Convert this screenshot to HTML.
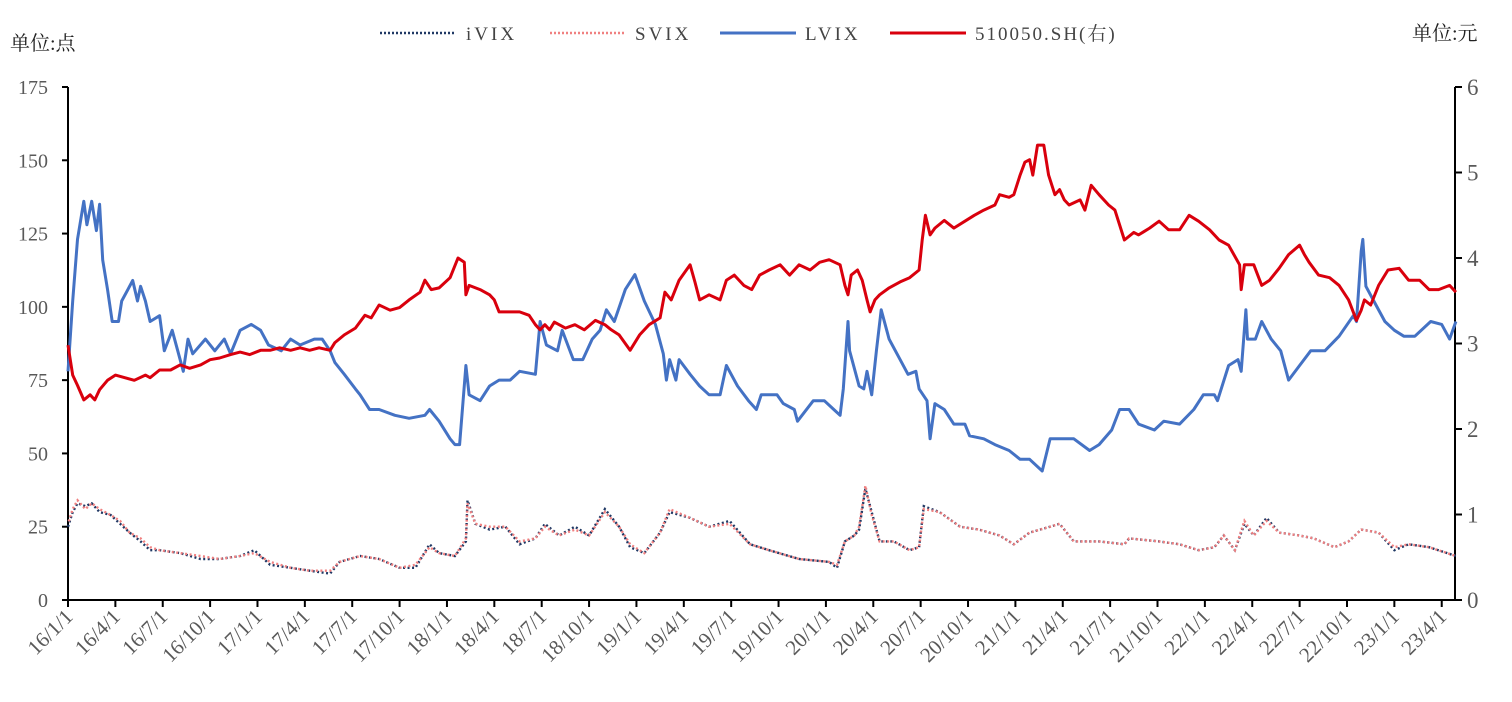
<!DOCTYPE html>
<html><head><meta charset="utf-8">
<style>
html,body{margin:0;padding:0;background:#fff;}
svg{display:block;}
text{font-family:"Liberation Serif","Noto Serif CJK SC",serif;fill:#595959;}
.cjk{font-family:"Liberation Serif","Noto Serif CJK SC","Noto Sans CJK SC",serif;fill:#222;}
</style></head>
<body>
<svg id="chart" width="1512" height="702" viewBox="0 0 1512 702" xmlns="http://www.w3.org/2000/svg">
  <text class="cjk" x="10" y="50" font-size="20">单位:点</text>
  <text class="cjk" x="1412" y="40" font-size="20">单位:元</text>
  <g id="legend">
    <g>
      <line x1="380" y1="33" x2="456" y2="33" stroke="#1f3864" stroke-width="2.5" stroke-dasharray="2,2"/>
      <text class="cjk" x="466" y="40" font-size="19" letter-spacing="3" style="fill:#444">iVIX</text>
    </g>
    <g>
      <line x1="550" y1="33" x2="626" y2="33" stroke="#f08080" stroke-width="2.5" stroke-dasharray="2,2"/>
      <text class="cjk" x="635" y="40" font-size="19" letter-spacing="3" style="fill:#444">SVIX</text>
    </g>
    <g>
      <line x1="720" y1="33" x2="796" y2="33" stroke="#4472c4" stroke-width="3"/>
      <text class="cjk" x="805" y="40" font-size="19" letter-spacing="3" style="fill:#444">LVIX</text>
    </g>
    <g>
      <line x1="890" y1="33" x2="966" y2="33" stroke="#d9000d" stroke-width="3"/>
      <text class="cjk" x="975" y="40" font-size="19" letter-spacing="2" style="fill:#444">510050.SH(右)</text>
    </g>
  </g>
  <g id="axes"></g>
  <g id="series"></g>
</svg>
<script>
// ---- data (dates in months since 2016-01-01) ----
const xTickLabels = ["16/1/1","16/4/1","16/7/1","16/10/1","17/1/1","17/4/1","17/7/1","17/10/1","18/1/1","18/4/1","18/7/1","18/10/1","19/1/1","19/4/1","19/7/1","19/10/1","20/1/1","20/4/1","20/7/1","20/10/1","21/1/1","21/4/1","21/7/1","21/10/1","22/1/1","22/4/1","22/7/1","22/10/1","23/1/1","23/4/1"];
const leftTicks = [0,25,50,75,100,125,150,175];
const rightTicks = [0,1,2,3,4,5,6];

const lvixDates = [0,0.3,0.6,1.0,1.2,1.5,1.8,2.0,2.2,2.5,2.8,3.2,3.4,3.8,4.1,4.4,4.6,4.9,5.2,5.8,6.1,6.6,7.3,7.6,7.9,8.7,9.3,9.9,10.3,10.9,11.6,12.2,12.7,13.5,14.1,14.7,15.6,16.1,16.6,16.9,17.5,18.2,18.5,19.1,19.7,20.7,21.6,22.6,22.9,23.5,24.2,24.5,24.8,25.2,25.4,26.1,26.7,27.3,28.0,28.6,29.6,29.9,30.3,31.0,31.3,32.0,32.6,33.2,33.7,34.1,34.6,35.3,35.9,36.5,37.2,37.7,37.9,38.1,38.5,38.7,39.4,40.0,40.6,41.3,41.7,42.4,43.1,43.6,43.9,44.9,45.3,46.0,46.2,47.2,47.9,48.5,48.9,49.1,49.4,49.5,50.1,50.4,50.6,50.9,51.2,51.5,52.0,52.7,53.2,53.7,53.9,54.4,54.6,54.9,55.5,56.1,56.8,57.1,58.0,58.7,59.6,60.3,60.9,61.7,62.2,62.8,63.7,64.7,65.3,66.1,66.6,67.2,67.8,68.8,69.4,70.4,71.3,71.9,72.6,72.8,73.5,74.1,74.3,74.6,74.7,75.2,75.6,76.2,76.8,77.3,78.0,78.7,79.6,80.5,81.4,81.6,81.9,82.0,82.2,82.7,83.4,84.0,84.6,85.3,86.3,87.0,87.5,87.9];
const lvixValues = [78,102,123,136,128,136,126,135,116,106,95,95,102,106,109,102,107,102,95,97,85,92,78,89,84,89,85,89,84,92,94,92,87,85,89,87,89,89,85,81,77,72,70,65,65,63,62,63,65,61,55,53,53,80,70,68,73,75,75,78,77,95,87,85,92,82,82,89,92,99,95,106,111,102,94,84,75,82,75,82,77,73,70,70,80,73,68,65,70,70,67,65,61,68,68,65,63,72,95,85,73,72,78,70,85,99,89,82,77,78,72,68,55,67,65,60,60,56,55,53,51,48,48,44,55,55,55,51,53,58,65,65,60,58,61,60,65,70,70,68,80,82,78,99,89,89,95,89,85,75,80,85,85,90,97,95,119,123,107,102,95,92,90,90,95,94,89,95];

const etfDates = [0,0.3,0.6,1.0,1.4,1.7,2.0,2.5,3.0,3.6,4.2,4.9,5.2,5.8,6.5,7.1,7.7,8.4,9.0,9.6,10.3,10.9,11.5,12.2,12.8,13.4,14.1,14.7,15.3,15.9,16.6,16.9,17.5,18.2,18.8,19.2,19.7,20.4,21.0,21.6,22.3,22.6,23.0,23.5,24.2,24.7,25.1,25.2,25.4,26.1,26.7,27.0,27.3,28.0,28.6,29.2,29.6,29.9,30.2,30.5,30.8,31.5,32.1,32.7,33.4,34.0,34.4,34.9,35.6,36.2,36.8,37.5,37.8,38.2,38.7,39.4,39.7,40.0,40.6,41.3,41.7,42.2,42.8,43.3,43.8,44.4,45.1,45.7,46.3,47.0,47.6,48.2,48.9,49.2,49.4,49.6,50.0,50.3,50.6,50.8,51.1,51.4,52.0,52.7,53.3,53.9,54.1,54.3,54.6,54.9,55.5,56.1,56.8,57.4,58.0,58.7,59.0,59.6,59.9,60.3,60.6,60.9,61.1,61.4,61.8,62.1,62.5,62.8,63.1,63.4,64.1,64.4,64.8,65.3,65.9,66.3,66.9,67.5,67.8,68.5,69.1,69.7,70.4,71.0,71.6,72.3,72.9,73.5,74.2,74.3,74.5,75.1,75.6,76.1,76.7,77.3,78.0,78.3,78.6,79.2,79.9,80.5,81.1,81.6,81.9,82.1,82.5,83.0,83.6,84.3,84.9,85.6,86.2,86.8,87.5,87.9];
const etfValues = [2.98,2.63,2.51,2.34,2.40,2.34,2.46,2.57,2.63,2.60,2.57,2.63,2.60,2.69,2.69,2.75,2.71,2.75,2.81,2.83,2.87,2.90,2.87,2.92,2.92,2.95,2.92,2.95,2.92,2.95,2.92,3.01,3.10,3.18,3.33,3.30,3.45,3.39,3.42,3.51,3.60,3.74,3.63,3.65,3.77,4.00,3.95,3.57,3.68,3.63,3.57,3.51,3.37,3.37,3.37,3.33,3.22,3.16,3.22,3.16,3.25,3.18,3.22,3.16,3.27,3.22,3.16,3.10,2.92,3.10,3.22,3.30,3.60,3.51,3.74,3.92,3.72,3.51,3.57,3.51,3.74,3.80,3.68,3.63,3.80,3.86,3.92,3.80,3.92,3.86,3.95,3.98,3.92,3.68,3.57,3.80,3.86,3.74,3.51,3.37,3.51,3.57,3.65,3.72,3.77,3.86,4.21,4.50,4.27,4.35,4.44,4.35,4.43,4.50,4.56,4.62,4.74,4.71,4.74,4.97,5.12,5.15,4.97,5.32,5.32,4.97,4.74,4.80,4.68,4.62,4.68,4.56,4.85,4.74,4.62,4.56,4.21,4.30,4.27,4.35,4.43,4.33,4.33,4.50,4.43,4.33,4.21,4.15,3.92,3.63,3.92,3.92,3.68,3.74,3.88,4.04,4.15,4.04,3.95,3.80,3.77,3.68,3.51,3.27,3.39,3.51,3.45,3.68,3.86,3.88,3.74,3.74,3.63,3.63,3.68,3.60];

const vixDates = [0,0.3,0.6,1.1,1.5,2.0,2.7,3.3,3.9,4.6,5.2,5.8,7.1,8.4,9.6,10.9,11.8,12.8,14.1,15.3,16.6,17.2,18.5,19.7,21.0,22.0,22.9,23.5,24.5,25.2,25.3,25.8,26.7,27.7,28.6,29.6,30.2,31.1,32.1,33.0,34.0,34.9,35.6,36.5,37.5,38.1,39.4,40.6,41.9,43.2,44.4,46.3,48.2,48.7,49.2,49.8,50.1,50.5,50.9,51.4,52.3,53.3,53.9,54.2,55.2,56.5,57.7,59.0,59.9,60.9,62.2,62.8,63.7,65.3,66.9,67.2,69.1,70.4,71.6,72.6,73.2,73.9,74.5,75.1,75.9,76.7,78.0,78.9,80.2,81.1,81.9,83.0,84.0,84.9,86.2,87.9];
const ivixValues = [25,30,33,32,33,30,29,26,23,20,17,17,16,14,14,15,17,12,11,10,9,13,15,14,11,11,19,16,15,20,34,26,24,25,19,21,26,22,25,22,31,25,18,16,23,30,28,25,27,19,17,14,13,11,20,22,24,38,30,20,20,17,18,32,30,25,24,22,19,23,25,26,20,20,19,21,20,19,17,18,22,17,26,22,28,23,22,21,18,20,24,23,17,19,18,15];
const svixValues = [26,31,34,31,33,31,29,27,23,21,18,17,16,15,14,15,16,13,11,10,10,13,15,14,11,12,18,16,15,21,33,26,25,25,20,21,25,22,24,22,30,25,19,16,23,31,28,25,26,19,17,14,13,12,20,22,25,39,29,20,20,17,18,31,30,25,24,22,19,23,25,26,20,20,19,21,20,19,17,18,22,17,27,22,27,23,22,21,18,20,24,23,18,19,18,15];

// ---- scales ----
const X0 = 68, X1 = 1455, Y0 = 600, YT = 87;
const monthW = 47.37 / 3;
function xScale(m){ return X0 + m * monthW; }
function yLeft(v){ return Y0 - (v / 175) * (Y0 - YT); }
function yRight(v){ return Y0 - (v / 6) * (Y0 - YT); }
const NS = "http://www.w3.org/2000/svg";
function mk(tag, attrs, parent){
  const e = document.createElementNS(NS, tag);
  for (const k in attrs) e.setAttribute(k, attrs[k]);
  parent.appendChild(e); return e;
}

// ---- axes ----
const axes = document.getElementById('axes');
const lAxis = mk('line', {x1:X0, y1:YT, x2:X0, y2:Y0, stroke:'#000', 'stroke-width':2}, axes);


const rAxis = mk('line', {x1:X1, y1:YT, x2:X1, y2:Y0, stroke:'#000', 'stroke-width':2}, axes);


const bAxis = mk('line', {x1:X0, y1:Y0, x2:X1, y2:Y0, stroke:'#000', 'stroke-width':2}, axes);



leftTicks.forEach(v => {
  const y = yLeft(v);
  mk('line', {x1:X0-6, y1:y, x2:X0, y2:y, stroke:'#000', 'stroke-width':2}, axes);
  const t = mk('text', {x:X0-20, y:y+7, 'font-size':20, 'text-anchor':'end'}, axes);
  t.textContent = v;
  
  
});
rightTicks.forEach(v => {
  const y = yRight(v);
  mk('line', {x1:X1, y1:y, x2:X1+7, y2:y, stroke:'#000', 'stroke-width':2}, axes);
  const t = mk('text', {x:X1+12, y:y+8, 'font-size':23}, axes);
  t.textContent = v;
  
  
});
xTickLabels.forEach((lab, i) => {
  const x = xScale(i * 3);
  mk('line', {x1:x, y1:Y0, x2:x, y2:Y0+7, stroke:'#000', 'stroke-width':2}, axes);
  const ax = x + 6, ay = Y0 + 18;
  const t = mk('text', {x:ax, y:ay, 'font-size':21, 'text-anchor':'end', transform:`rotate(-45 ${ax} ${ay})`}, axes);
  t.textContent = lab;
  
  
});

// ---- series ----
const series = document.getElementById('series');
function pathD(dates, vals, yf){
  return dates.map((d,i) => (i? 'L':'M') + xScale(d).toFixed(1) + ' ' + yf(vals[i]).toFixed(1)).join(' ');
}
const pI = mk('path', {d:pathD(vixDates, ivixValues, yLeft), fill:'none', stroke:'#1f3864', 'stroke-width':2.4, 'stroke-dasharray':'2,2.5'}, series);


const pS = mk('path', {d:pathD(vixDates, svixValues, yLeft), fill:'none', stroke:'#f08080', 'stroke-width':2.4, 'stroke-dasharray':'2,2.5', 'stroke-dashoffset':2}, series);


const pL = mk('path', {d:pathD(lvixDates, lvixValues, yLeft), fill:'none', stroke:'#4472c4', 'stroke-width':3, 'stroke-linejoin':'round'}, series);


const pE = mk('path', {d:pathD(etfDates, etfValues, yRight), fill:'none', stroke:'#d9000d', 'stroke-width':3, 'stroke-linejoin':'round'}, series);


</script>
</body></html>
